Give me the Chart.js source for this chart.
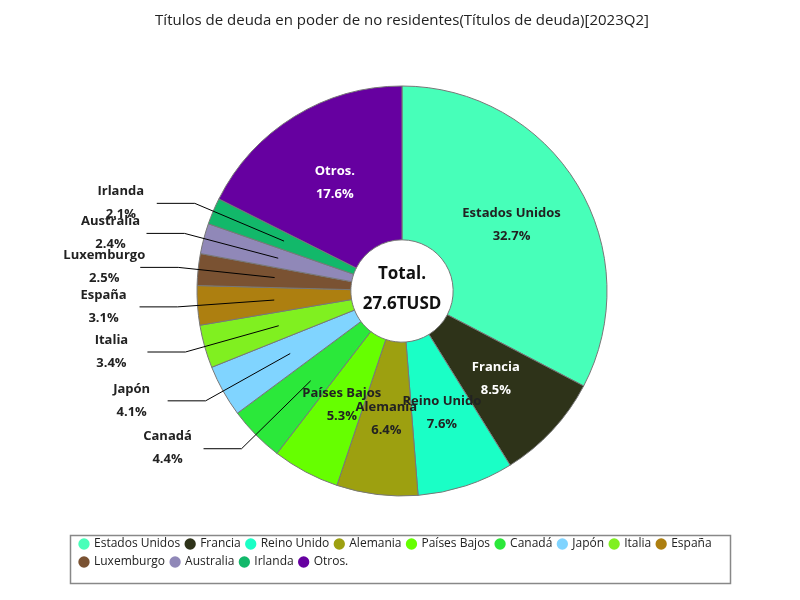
<!DOCTYPE html>
<html lang="es">
<head>
<meta charset="UTF-8">
<title>Títulos de deuda</title>
<script src="https://cdn.jsdelivr.net/npm/chart.js"></script>
<style>
  body { margin: 0; background: #fff; }
  #wrap { width: 800px; height: 600px; }
</style>
</head>
<body>
<div id="wrap"><canvas id="chart"></canvas></div>
<script>
const labels = ['Estados Unidos', 'Francia', 'Reino Unido', 'Alemania', 'Países Bajos', 'Canadá', 'Japón', 'Italia', 'España', 'Luxemburgo', 'Australia', 'Irlanda', 'Otros.'];
const values = [32.7, 8.5, 7.6, 6.4, 5.3, 4.4, 4.1, 3.4, 3.1, 2.5, 2.4, 2.1, 17.6];
const colors = ['#47ffb9', '#2e3319', '#1affc6', '#9da010', '#66ff00', '#2be83a', '#80d4ff', '#80f020', '#ad7f10', '#7a5232', '#9088b8', '#12b86a', '#6600a0'];
const outsideLabels = ['Canadá', 'Japón', 'Italia', 'España', 'Luxemburgo', 'Australia', 'Irlanda'];
const whiteText = ['Francia', 'Otros.'];
const totalText = '27.6TUSD';

const FONT = '"Open Sans", "Noto Sans", sans-serif';

// labels inside slices, leader lines for the small ones, total in the hole
const sliceLabels = {
  id: 'sliceLabels',
  afterDatasetsDraw(chart) {
    const ctx = chart.ctx;
    const meta = chart.getDatasetMeta(0);
    const sum = values.reduce((a, b) => a + b, 0);
    ctx.save();
    ctx.font = 'bold 13px ' + FONT;
    ctx.textAlign = 'center';
    ctx.textBaseline = 'middle';
    meta.data.forEach((arc, i) => {
      const mid = (arc.startAngle + arc.endAngle) / 2;
      const rMid = (arc.innerRadius + arc.outerRadius) / 2;
      const px = arc.x + Math.cos(mid) * rMid;
      const py = arc.y + Math.sin(mid) * rMid;
      const pct = (values[i] / sum * 100).toFixed(1) + '%';
      if (outsideLabels.includes(labels[i])) {
        const ex = arc.x + Math.cos(mid) * (arc.outerRadius + 20);
        const ey = arc.y + Math.sin(mid) * (arc.outerRadius + 20);
        const hx = ex - 38;
        ctx.strokeStyle = '#000';
        ctx.lineWidth = 1;
        ctx.beginPath();
        ctx.moveTo(px, py);
        ctx.lineTo(ex, ey);
        ctx.lineTo(hx, ey);
        ctx.stroke();
        ctx.fillStyle = '#222';
        ctx.fillText(labels[i], hx - 36, ey - 12);
        ctx.fillText(pct, hx - 36, ey + 11);
      } else {
        ctx.fillStyle = whiteText.includes(labels[i]) ? '#fff' : '#222';
        ctx.fillText(labels[i], px, py - 11);
        ctx.fillText(pct, px, py + 12);
      }
    });
    const a0 = meta.data[0];
    ctx.fillStyle = '#111';
    ctx.font = 'bold 17px ' + FONT;
    ctx.fillText('Total.', a0.x, a0.y - 17);
    ctx.fillText(totalText, a0.x, a0.y + 13);
    ctx.restore();
  }
};

// border around legend
const legendBox = {
  id: 'legendBox',
  afterDraw(chart) {
    const ctx = chart.ctx;
    ctx.save();
    ctx.strokeStyle = '#888';
    ctx.lineWidth = 1.5;
    ctx.strokeRect(70.5, 535.5, 660, 48);
    ctx.restore();
  }
};

new Chart(document.getElementById('chart'), {
  type: 'doughnut',
  data: {
    labels: labels,
    datasets: [{
      data: values,
      backgroundColor: colors,
      borderColor: '#777',
      borderWidth: 1
    }]
  },
  options: {
    responsive: true,
    maintainAspectRatio: false,
    animation: false,
    cutout: 60,
    radius: 205,
    layout: { padding: { top: 0, bottom: 22, left: 74, right: 70 } },
    plugins: {
      title: {
        display: true,
        text: 'Títulos de deuda en poder de no residentes(Títulos de deuda)[2023Q2]',
        color: '#222',
        font: { family: FONT, size: 15, weight: 'normal' },
        padding: { top: 12, bottom: 20 }
      },
      legend: {
        position: 'bottom',
        align: 'start',
        labels: {
          usePointStyle: true,
          pointStyle: 'circle',
          boxWidth: 8,
          boxHeight: 8,
          padding: 6,
          color: '#222',
          font: { family: FONT, size: 12 },
          generateLabels(chart) {
            return Chart.overrides.doughnut.plugins.legend.labels.generateLabels(chart)
              .map(item => Object.assign(item, { lineWidth: 0, strokeStyle: item.fillStyle }));
          }
        }
      },
      tooltip: { enabled: false }
    }
  },
  plugins: [sliceLabels, legendBox]
});
</script>
</body>
</html>
